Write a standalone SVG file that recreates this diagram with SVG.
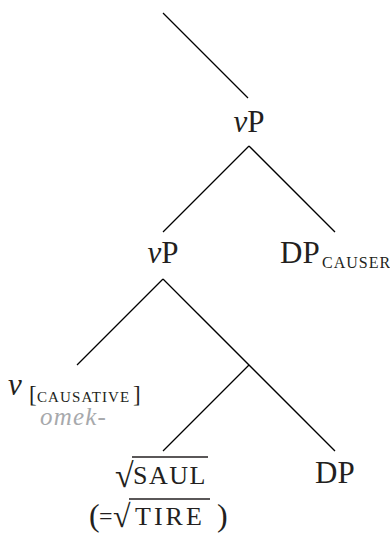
<svg xmlns="http://www.w3.org/2000/svg" width="390" height="533" viewBox="0 0 390 533">
<style>
text{font-family:'Liberation Serif','Times New Roman',serif;fill:#231f20}
.lab{font-size:31px}
.it{font-style:italic}
.sc{font-size:16px;letter-spacing:1px}
.edge{stroke:#000;stroke-width:1.3;fill:none}
.bar{stroke:#231f20;stroke-width:1.3}
.gl{fill:#a7a9ac}
</style>
<rect width="390" height="533" fill="#fff"/>
<g id="connectors">
<line class="edge" x1="163" y1="13" x2="248" y2="98"/>
<line class="edge" x1="249" y1="146" x2="163" y2="232"/>
<line class="edge" x1="249" y1="146" x2="335" y2="232"/>
<line class="edge" x1="163" y1="279" x2="77" y2="365"/>
<line class="edge" x1="163" y1="279" x2="335" y2="451"/>
<line class="edge" x1="249" y1="365" x2="163" y2="451"/>
</g>
<g id="vP-top"><text class="lab" x="249" y="132" text-anchor="middle"><tspan class="it">v</tspan>P</text></g>
<g id="vP-mid"><text class="lab" x="163" y="263" text-anchor="middle"><tspan class="it">v</tspan>P</text></g>
<g id="DP-causer"><text class="lab" x="280" y="263">DP</text><text class="sc" x="322" y="268">CAUSER</text></g>
<g id="v-causative">
<text class="lab it" x="8" y="395">v</text>
<text x="29" y="402" font-size="23">[</text>
<text x="37" y="402" font-size="15" letter-spacing="1.1">CAUSATIVE</text>
<text x="133" y="402" font-size="23">]</text>
<text class="it gl" x="40" y="425" font-size="25" letter-spacing="1.2">omek-</text>
</g>
<g id="root-saul">
<text x="115" y="487" font-size="34">√</text>
<line class="bar" x1="132" y1="457" x2="208" y2="457"/>
<text x="133" y="484" font-size="26" letter-spacing="1.5">SAUL</text>
<text x="89" y="526" font-size="32">(</text>
<text x="99" y="524" font-size="24">=</text>
<text x="113" y="527" font-size="32">√</text>
<line class="bar" x1="129" y1="499" x2="210" y2="499"/>
<text x="135" y="525" font-size="26" letter-spacing="3">TIRE</text>
<text x="217" y="526" font-size="32">)</text>
</g>
<g id="DP-low"><text class="lab" x="315" y="483">DP</text></g>
</svg>
